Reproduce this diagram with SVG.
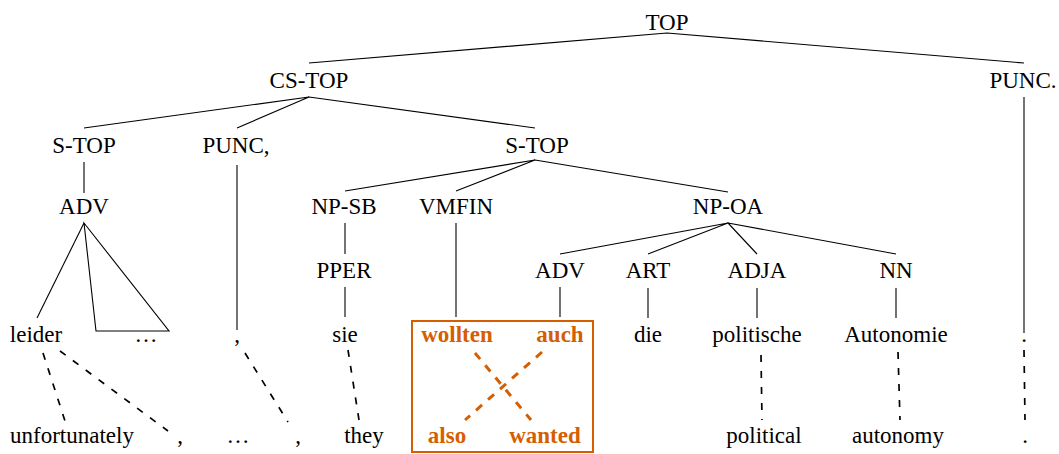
<svg xmlns="http://www.w3.org/2000/svg" width="1059" height="454" viewBox="0 0 1059 454">
<style>
text{font-family:"Liberation Serif","Times New Roman",serif;font-size:23px;fill:#000;text-anchor:middle}
text.hl{font-weight:bold;fill:#D55E00}
.e{stroke:#000;stroke-width:1.1;fill:none}
.d{stroke:#000;stroke-width:1.7;stroke-dasharray:7 9;fill:none}
.o{stroke:#D55E00;stroke-width:3;stroke-dasharray:8 8;fill:none}
</style>
<g id="connectors">
<path class="e" d="M667,33 L309,63 M667,33 L1024,63"/>
<path class="e" d="M309,97 L84,128 M309,97 L237,128 M309,97 L535,128"/>
<path class="e" d="M84,162 L84,193"/>
<path class="e" d="M237,165 L237,330"/>
<path class="e" d="M535,160 L345,191 M535,160 L456,191 M535,160 L728,192"/>
<path class="e" d="M84,223 L37,318"/>
<path class="e" d="M84,223 L96,331 L169,331 Z"/>
<path class="e" d="M345,223 L345,254"/>
<path class="e" d="M456,223 L456,317"/>
<path class="e" d="M728,223 L560,254 M728,223 L648,254 M728,223 L757,254 M728,223 L896,254"/>
<path class="e" d="M345,287 L345,317"/>
<path class="e" d="M560,287 L560,317 M648,288 L648,318 M757,288 L757,318 M896,288 L896,318"/>
<path class="e" d="M1024,97 L1024,333"/>
<path class="d" d="M43,353 L65,421"/>
<path class="d" d="M60,351 L168,431"/>
<path class="d" d="M245,353 L288,422"/>
<path class="d" d="M348,350 L359,420"/>
<path class="d" d="M761,355 L762,420"/>
<path class="d" d="M898,352 L900,420"/>
<path class="d" d="M1024,350 L1025,420"/>
<path class="o" d="M475,353 L531,420"/>
<path class="o" d="M542,352 L465,420"/>
</g>
<rect id="highlight-box" x="412" y="321" width="181" height="131" fill="none" stroke="#D55E00" stroke-width="2"/>
<g id="n-top"><text x="667" y="30">TOP</text></g>
<g id="n-cstop"><text x="309" y="88">CS-TOP</text></g>
<g id="n-punc-period"><text x="1023" y="88">PUNC.</text></g>
<g id="n-stop1"><text x="84" y="153">S-TOP</text></g>
<g id="n-punc-comma"><text x="236" y="153">PUNC,</text></g>
<g id="n-stop2"><text x="537" y="153">S-TOP</text></g>
<g id="n-adv1"><text x="84" y="214">ADV</text></g>
<g id="n-npsb"><text x="344" y="214">NP-SB</text></g>
<g id="n-vmfin"><text x="456" y="214">VMFIN</text></g>
<g id="n-npoa"><text x="728" y="214">NP-OA</text></g>
<g id="n-pper"><text x="344" y="278">PPER</text></g>
<g id="n-adv2"><text x="560" y="278">ADV</text></g>
<g id="n-art"><text x="648" y="278">ART</text></g>
<g id="n-adja"><text x="757" y="278">ADJA</text></g>
<g id="n-nn"><text x="896" y="278">NN</text></g>
<g id="w-leider"><text x="36" y="342">leider</text></g>
<g id="w-dots"><text x="146" y="342">…</text></g>
<g id="w-comma"><text x="237" y="342">,</text></g>
<g id="w-sie"><text x="345" y="342">sie</text></g>
<g id="w-wollten"><text class="hl" x="457" y="342">wollten</text></g>
<g id="w-auch"><text class="hl" x="560" y="342">auch</text></g>
<g id="w-die"><text x="648" y="342">die</text></g>
<g id="w-politische"><text x="757" y="342">politische</text></g>
<g id="w-autonomie"><text x="896" y="342">Autonomie</text></g>
<g id="w-period"><text x="1024" y="342">.</text></g>
<g id="t-unfortunately"><text x="72" y="443">unfortunately</text></g>
<g id="t-comma1"><text x="180" y="443">,</text></g>
<g id="t-dots"><text x="238" y="443">…</text></g>
<g id="t-comma2"><text x="298" y="443">,</text></g>
<g id="t-they"><text x="364" y="443">they</text></g>
<g id="t-also"><text class="hl" x="447" y="443">also</text></g>
<g id="t-wanted"><text class="hl" x="545" y="443">wanted</text></g>
<g id="t-political"><text x="764" y="443">political</text></g>
<g id="t-autonomy"><text x="898" y="443">autonomy</text></g>
<g id="t-period"><text x="1025" y="443">.</text></g>
</svg>
